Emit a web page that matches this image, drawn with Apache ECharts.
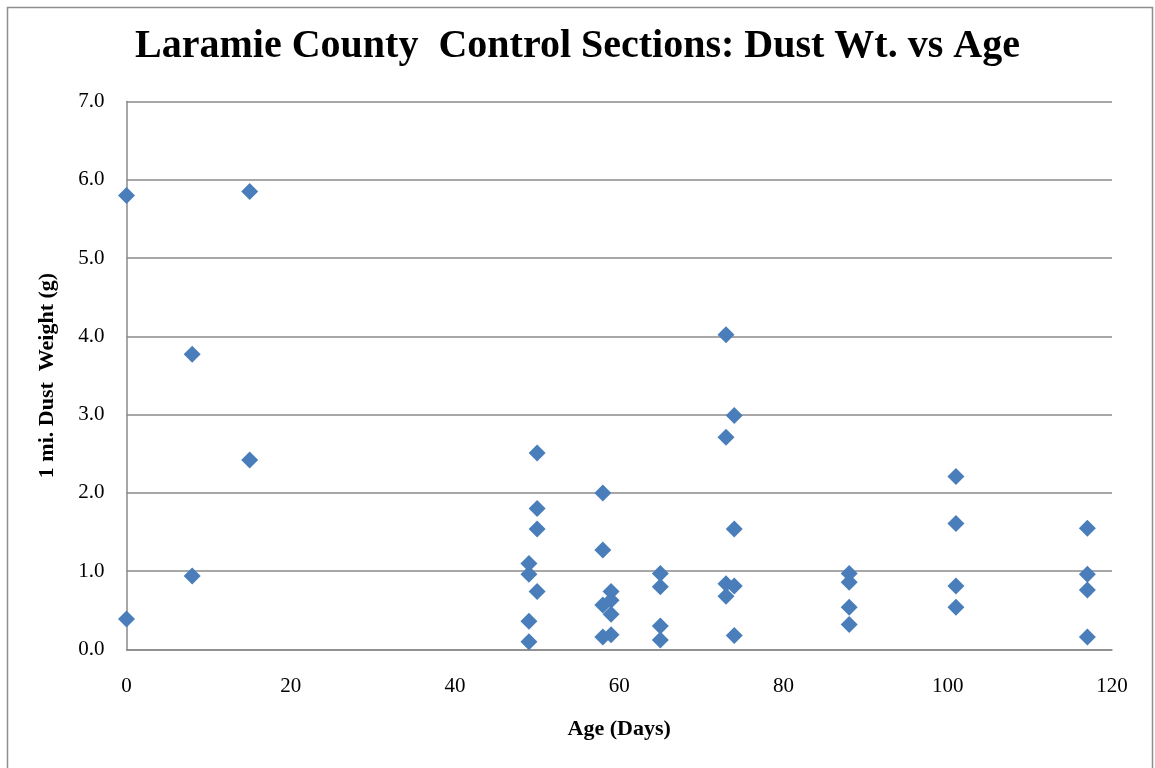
<!DOCTYPE html>
<html>
<head>
<meta charset="utf-8">
<script src="https://cdn.jsdelivr.net/npm/echarts@6/dist/echarts.min.js"></script>
<style>
  html, body { margin: 0; padding: 0; background: #ffffff; }
  #chart { width: 1155px; height: 768px; }
</style>
</head>
<body>
<div id="chart"></div>
<script>
// Sample age (days) and measured 1-mile dust weight (g) for each control section
const ageDays = [0, 0, 8, 8, 15, 15,
  49, 49, 49, 49, 50, 50, 50, 50,
  58, 58, 58, 58, 59, 59, 59, 59,
  65, 65, 65, 65, 73, 73, 73, 73,
  74, 74, 74, 74, 88, 88, 88, 88,
  101, 101, 101, 101, 117, 117, 117, 117];
const dustWeight = [5.80, 0.39, 3.77, 0.94, 5.85, 2.42,
  1.10, 0.96, 0.36, 0.10, 2.51, 1.80, 1.54, 0.74,
  2.00, 1.27, 0.57, 0.16, 0.74, 0.63, 0.45, 0.19,
  0.97, 0.80, 0.30, 0.12, 4.02, 2.71, 0.84, 0.68,
  2.99, 1.54, 0.81, 0.18, 0.97, 0.86, 0.54, 0.32,
  2.21, 1.61, 0.81, 0.54, 1.55, 0.96, 0.76, 0.16];

const titleText = 'Laramie County  Control Sections: Dust Wt. vs Age';
const xAxisName = 'Age (Days)';
const yAxisName = '1 mi. Dust  Weight (g)';

const points = ageDays.map((a, i) => [a, dustWeight[i]]);

const serif = '"Liberation Serif", "Times New Roman", serif';
const gridColor = '#8a8a8a';

const chart = echarts.init(document.getElementById('chart'), null, { renderer: 'canvas' });
chart.setOption({
  backgroundColor: '#ffffff',
  animation: false,
  title: {
    text: titleText,
    left: 'center',
    top: 22,
    textStyle: { fontFamily: serif, fontSize: 40, fontWeight: 'bold', color: '#000' }
  },
  graphic: [{
    type: 'rect',
    shape: { x: 7.5, y: 7.5, width: 1145, height: 775 },
    style: { fill: 'none', stroke: '#8f8f8f', lineWidth: 1.5 },
    silent: true
  }],
  grid: { left: 126.5, right: 43, top: 101.5, bottom: 118.5, containLabel: false },
  xAxis: {
    type: 'value',
    min: 0, max: 120, interval: 20,
    name: xAxisName,
    nameLocation: 'middle',
    nameGap: 69,
    nameTextStyle: { fontFamily: serif, fontSize: 22, fontWeight: 'bold', color: '#000' },
    axisLine: { show: true, lineStyle: { color: gridColor, width: 1.5 } },
    axisTick: { show: false },
    splitLine: { show: false },
    axisLabel: { fontFamily: serif, fontSize: 21, color: '#000', margin: 26 }
  },
  yAxis: {
    type: 'value',
    min: 0, max: 7, interval: 1,
    name: yAxisName,
    nameLocation: 'middle',
    nameGap: 68,
    nameRotate: 90,
    nameTextStyle: { fontFamily: serif, fontSize: 22, fontWeight: 'bold', color: '#000' },
    axisLine: { show: true, lineStyle: { color: gridColor, width: 1.5 } },
    axisTick: { show: false },
    splitLine: { show: true, lineStyle: { color: gridColor, width: 1.5 } },
    axisLabel: {
      fontFamily: serif, fontSize: 21, color: '#000', margin: 22,
      formatter: v => v.toFixed(1)
    }
  },
  series: [{
    type: 'scatter',
    data: points,
    symbol: 'diamond',
    symbolSize: 17,
    itemStyle: { color: '#4a7ebb', opacity: 1 }
  }]
});
</script>
</body>
</html>
